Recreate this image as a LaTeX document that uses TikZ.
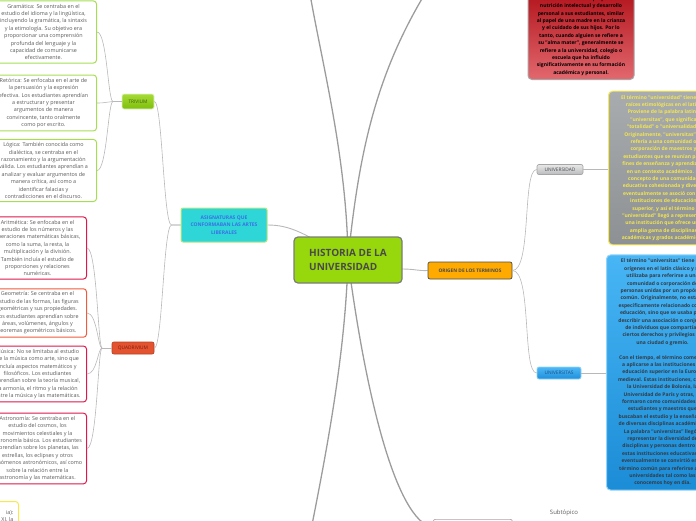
\documentclass[tikz,border=0pt]{standalone}
\usepackage{fontspec}
\setmainfont{Open Sans}
\usetikzlibrary{backgrounds}

\definecolor{histgreen}{HTML}{97D80C}
\definecolor{histborder}{HTML}{7B7B7B}
\definecolor{darktext}{HTML}{4A4A4A}
\definecolor{origenfill}{HTML}{FFAA00}
\definecolor{asigfill}{HTML}{2ED6D8}
\definecolor{asigborder}{HTML}{B9E77C}
\definecolor{asigtext}{HTML}{3C6FE6}
\definecolor{trivtop}{HTML}{A6DB36}
\definecolor{trivbot}{HTML}{7DBF0A}
\definecolor{trivtext}{HTML}{3F5F12}
\definecolor{quadfill}{HTML}{E4532F}
\definecolor{quadtext}{HTML}{7A1D10}
\definecolor{leafgreen}{HTML}{A6DD55}
\definecolor{leafred}{HTML}{E0174C}
\definecolor{leaforange}{HTML}{EE5C3E}
\definecolor{leafyellow}{HTML}{F7E850}
\definecolor{leaftext}{HTML}{5A5A5A}
\definecolor{univtop}{HTML}{E8E8E8}
\definecolor{univbot}{HTML}{B9BBBD}
\definecolor{unistop}{HTML}{4DB8F5}
\definecolor{unisbot}{HTML}{1F8FDC}
\definecolor{unistext}{HTML}{1D4F86}
\definecolor{yfilltop}{HTML}{A9ACAF}
\definecolor{yfillbot}{HTML}{8D9194}
\definecolor{ytext}{HTML}{F3E64E}
\definecolor{bluetop}{HTML}{48B6F5}
\definecolor{bluebot}{HTML}{1B8CD6}
\definecolor{bluetext}{HTML}{333B45}
\definecolor{redtop}{HTML}{B3141C}
\definecolor{redbot}{HTML}{E2686E}
\definecolor{linegray}{HTML}{B8B8B8}

\tikzset{
  conn/.style={draw=linegray, line width=0.6pt},
  trunk/.style={draw=linegray!85!black, line width=1.3pt},
  hist/.style={fill=histgreen, draw=histborder, line width=1.2pt, rounded corners=4pt,
    minimum width=108pt, minimum height=46pt, align=left, text=darktext,
    font=\fontsize{10}{14}\selectfont\bfseries},
  topic/.style={rounded corners=2pt, inner sep=1pt, line width=0.7pt,
    font=\fontsize{4.8}{6}\selectfont},
  leaf/.style={draw=#1, line width=1pt, fill=white, rounded corners=3pt, align=center,
    inner sep=3pt, text=leaftext, font=\fontsize{5.4}{7.4}\selectfont},
  note/.style={rounded corners=4pt, align=center, inner sep=4pt, line width=1pt,
    font=\fontsize{5}{7.4}\selectfont\bfseries}
}

\begin{document}
\begin{tikzpicture}[x=1pt, y=-1pt]
\useasboundingbox (0,0) rectangle (696,520);
\clip (0,0) rectangle (696,520);

% centro y ramas principales
\node[hist] (hist) at (348,260) {HISTORIA DE LA\\UNIVERSIDAD};
\node[topic, fill=origenfill, draw=darktext, text=darktext, minimum width=84pt, minimum height=17pt,
  font=\fontsize{4.8}{6}\selectfont\bfseries] (origen) at (470,270.5) {ORIGEN DE LOS TERMINOS};
\node[topic, fill=asigfill, draw=asigborder, line width=1pt, text=asigtext, align=center,
  minimum width=86pt, minimum height=34pt, font=\fontsize{5}{7.7}\selectfont\bfseries] (asig) at (224,225)
  {ASIGNATURAS QUE\\CONFORMABAN LAS ARTES\\LIBERALES};
\node[topic, draw=white!80!trivbot, top color=trivtop, bottom color=trivbot, text=trivtext,
  minimum width=32pt, minimum height=15pt] (triv) at (138,101.5) {TRIVIUM};
\node[topic, draw=quadfill!80!black, fill=quadfill, text=quadtext,
  minimum width=42pt, minimum height=12pt] (quad) at (133,348) {QUADRIVIUM};
\node[topic, draw=gray!70, top color=univtop, bottom color=univbot, text=darktext,
  minimum width=46pt, minimum height=10pt] (univ) at (560,169.5) {UNIVERSIDAD};
\node[topic, draw=unistop!60!white, top color=unistop, bottom color=unisbot, text=unistext,
  minimum width=44pt, minimum height=12pt] (unis) at (559,373) {UNIVERSITAS};
\node[topic, draw=gray!70, fill=white, anchor=north west, minimum width=79pt, minimum height=17pt] (bnode) at (433,519) {};
\node[text=leaftext, font=\fontsize{6}{7}\selectfont] (sub) at (564,513) {Subtópico};

% trivium
\node[leaf=leafgreen, minimum width=106pt, anchor=east] (gram) at (97,32)
  {Gramática: Se centraba en el\\estudio del idioma y la lingüística,\\incluyendo la gramática, la sintaxis\\
   y la etimología. Su objetivo era\\proporcionar una comprensión\\profunda del lenguaje y la\\
   capacidad de comunicarse\\efectivamente.};
\node[leaf=leafgreen, minimum width=106pt, anchor=east] (ret) at (97,103)
  {Retórica: Se enfocaba en el arte de\\la persuasión y la expresión\\efectiva. Los estudiantes aprendían\\
   a estructurar y presentar\\argumentos de manera\\convincente, tanto oralmente\\como por escrito.};
\node[leaf=leafgreen, minimum width=106pt, anchor=east] (log) at (97,170.5)
  {Lógica: También conocida como\\dialéctica, se centraba en el\\razonamiento y la argumentación\\
   válida. Los estudiantes aprendían a\\analizar y evaluar argumentos de\\manera crítica, así como a\\
   identificar falacias y\\contradicciones en el discurso.};

% quadrivium
\node[leaf=leafred, minimum width=98pt, anchor=east] (arit) at (87,248)
  {Aritmética: Se enfocaba en el\\estudio de los números y las\\operaciones matemáticas básicas,\\
   como la suma, la resta, la\\multiplicación y la división.\\También incluía el estudio de\\
   proporciones y relaciones\\numéricas.};
\node[leaf=leaforange, minimum width=98pt, anchor=east] (geom) at (87,313)
  {Geometría: Se centraba en el\\estudio de las formas, las figuras\\geométricas y sus propiedades.\\
   Los estudiantes aprendían sobre\\áreas, volúmenes, ángulos y\\teoremas geométricos básicos.};
\node[leaf=leafred, minimum width=98pt, anchor=east] (mus) at (87,374)
  {Música: No se limitaba al estudio\\de la música como arte, sino que\\incluía aspectos matemáticos y\\
   filosóficos. Los estudiantes\\aprendían sobre la teoría musical,\\la armonía, el ritmo y la relación\\
   entre la música y las matemáticas.};
\node[leaf=leafred, minimum width=98pt, anchor=east] (astro) at (87,448.5)
  {Astronomía: Se centraba en el\\estudio del cosmos, los\\movimientos celestiales y la\\
   astronomía básica. Los estudiantes\\aprendían sobre los planetas, las\\estrellas, los eclipses y otros\\
   fenómenos astronómicos, así como\\sobre la relación entre la\\astronomía y las matemáticas.};
\node[leaf=leafyellow, text width=64pt, minimum height=30pt, align=right, anchor=north east,
  inner xsep=5pt] (edad) at (19,501) {ia):\\XI, la};

% notas de la derecha
\node[note, draw=leafyellow, top color=yfilltop, bottom color=yfillbot, text=ytext,
  minimum width=110pt, anchor=west] (ybox) at (608,168)
  {El término "universidad" tiene sus\\raíces etimológicas en el latín.\\Proviene de la palabra latina\\
   "universitas", que significa\\"totalidad" o "universalidad".\\Originalmente, "universitas" se\\
   refería a una comunidad o\\corporación de maestros y\\estudiantes que se reunían para\\
   fines de enseñanza y aprendizaje\\en un contexto académico. El\\concepto de una comunidad\\
   educativa cohesionada y diversa\\eventualmente se asoció con las\\instituciones de educación\\
   superior, y así el término\\"universidad" llegó a representar\\una institución que ofrece una\\
   amplia gama de disciplinas\\académicas y grados académicos.};
\node[note, draw=bluetop!60!white, top color=bluetop, bottom color=bluebot, text=bluetext,
  minimum width=112pt, anchor=west] (bbox) at (606,372.5)
  {El término "universitas" tiene sus\\orígenes en el latín clásico y se\\utilizaba para referirse a una\\
   comunidad o corporación de\\personas unidas por un propósito\\común. Originalmente, no estaba\\
   específicamente relacionado con la\\educación, sino que se usaba para\\describir una asociación o conjunto\\
   de individuos que compartían\\ciertos derechos y privilegios en\\una ciudad o gremio.\\[7.4pt]
   Con el tiempo, el término comenzó\\a aplicarse a las instituciones de\\educación superior en la Europa\\
   medieval. Estas instituciones, como\\la Universidad de Bolonia, la\\Universidad de París y otras, se\\
   formaron como comunidades de\\estudiantes y maestros que\\buscaban el estudio y la enseñanza\\
   de diversas disciplinas académicas.\\La palabra "universitas" llegó a\\representar la diversidad de\\
   disciplinas y personas dentro de\\estas instituciones educativas, y\\eventualmente se convirtió en el\\
   término común para referirse a las\\universidades tal como las\\conocemos hoy en día.};
\node[note, draw=gray!70, top color=redtop, bottom color=redbot, text=black,
  minimum width=106pt, anchor=south] (alma) at (581,80)
  {institución educativa proporciona\\nutrición intelectual y desarrollo\\personal a sus estudiantes, similar\\
   al papel de una madre en la crianza\\y el cuidado de sus hijos. Por lo\\tanto, cuando alguien se refiere a\\
   su "alma mater", generalmente se\\refiere a la universidad, colegio o\\escuela que ha influido\\
   significativamente en su formación\\académica y personal.};

% conexiones
\coordinate (upL) at (306,-30);
\coordinate (upR) at (440,-30);
\coordinate (dnL) at (305,560);
\coordinate (tv) at (113,101.5);
\coordinate (qv) at (102,348);
\begin{scope}[on background layer]
\clip (0,0) rectangle (696,520);
\draw[trunk] (hist.center) .. controls (347,150) and (318,50) .. (upL);
\draw[trunk] (hist.center) .. controls (360,140) and (380,60) .. (upR);
\draw[trunk] (hist.center) .. controls (345,360) and (325,460) .. (dnL);
\draw[trunk] (hist.center) .. controls (365,390) and (395,520) .. (bnode.west);
\draw[conn, line width=0.9pt] (asig.east) .. controls (290,225) and (305,233) .. (hist.center);
\draw[conn, line width=0.9pt] (hist.center) -- (402,269) .. controls (415,269) and (418,271) .. (origen.west);
\end{scope}
\draw[conn] (asig.west) -- ++(-9,0) .. controls +(-8,0) and +(8,0) .. (triv.east);
\draw[conn] (asig.west) -- ++(-9,0) .. controls +(-8,0) and +(8,0) .. (quad.east);
\draw[conn] (triv.west) -- (tv);
\foreach \n in {gram,ret,log}
  \draw[conn] (tv) .. controls +(-5,0) and +(10,0) .. (\n.east);
\draw[conn] (quad.west) -- (qv);
\foreach \n in {arit,geom,mus,astro}
  \draw[conn] (qv) .. controls +(-4,0) and +(10,0) .. (\n.east);
\draw[conn] (origen.east) .. controls (532,270.5) and (522,169.5) .. (univ.west);
\draw[conn] (origen.east) .. controls (532,270.5) and (522,373) .. (unis.west);
\draw[conn] (univ.east) -- (ybox.west |- univ.east);
\draw[conn] (unis.east) -- (bbox.west |- unis.east);
\end{tikzpicture}
\end{document}
